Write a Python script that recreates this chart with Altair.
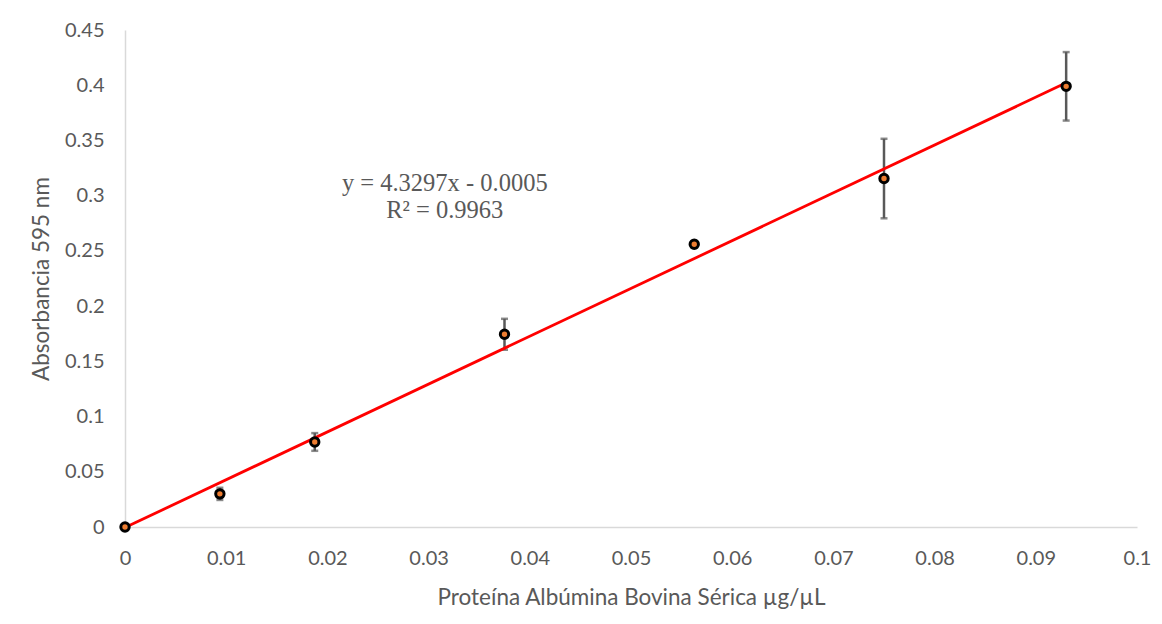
import altair as alt
import pandas as pd

conc = [0, 0.009375, 0.01875, 0.0375, 0.05625, 0.075, 0.093]
absorb = [0.0, 0.030, 0.077, 0.1745, 0.256, 0.3155, 0.399]
err = [0.0, 0.0055, 0.008, 0.014, 0.003, 0.036, 0.031]

slope = 4.3297
intercept = -0.0005
fit_x = [0, 0.093]

eq_lines = ["y = 4.3297x - 0.0005", "R² = 0.9963"]
eq_x = [0.0316, 0.0316]
eq_y = [0.3105, 0.2865]

df = pd.DataFrame({"x": conc, "y": absorb, "err": err})
df["lo"] = df["y"] - df["err"]
df["hi"] = df["y"] + df["err"]
fit = pd.DataFrame({"x": fit_x, "y": [slope * v + intercept for v in fit_x]})
ann = pd.DataFrame({"x": eq_x, "y": eq_y, "t": eq_lines})

FONT = "Lato"
GRAY = "#595959"

xscale = alt.Scale(domain=[0, 0.1], nice=False, zero=True)
yscale = alt.Scale(domain=[0, 0.45], nice=False)

xaxis = alt.Axis(
    title="Proteína Albúmina Bovina Sérica µg/µL",
    values=[0, 0.01, 0.02, 0.03, 0.04, 0.05, 0.06, 0.07, 0.08, 0.09, 0.1],
    format="~g", grid=False, ticks=False, domainColor="#D9D9D9", domainWidth=1.5,
    labelFlush=False, labelOverlap=False,
    labelPadding=21, titlePadding=18, labelFont=FONT, titleFont=FONT,
    labelFontSize=20, titleFontSize=22.5, labelColor=GRAY, titleColor=GRAY,
    titleFontWeight="normal",
)
yaxis = alt.Axis(
    title="Absorbancia 595 nm",
    values=[0, 0.05, 0.1, 0.15, 0.2, 0.25, 0.3, 0.35, 0.4, 0.45],
    format="~g", grid=False, ticks=False, domainColor="#D9D9D9", domainWidth=1.5,
    labelFlush=False, labelOverlap=False,
    labelPadding=21, titlePadding=11, labelFont=FONT, titleFont=FONT,
    labelFontSize=20, titleFontSize=22.5, labelColor=GRAY, titleColor=GRAY,
    titleFontWeight="normal",
)

base = alt.Chart(df)

bars = base.mark_rule(color=GRAY, strokeWidth=2.5).encode(
    x=alt.X("x:Q", scale=xscale, axis=xaxis),
    y=alt.Y("lo:Q", scale=yscale, axis=yaxis),
    y2="hi:Q",
)
caps_hi = base.mark_tick(color=GRAY, orient="horizontal", size=7, thickness=2.5).encode(
    x=alt.X("x:Q", scale=xscale), y=alt.Y("hi:Q", scale=yscale)
)
caps_lo = base.mark_tick(color=GRAY, orient="horizontal", size=7, thickness=2.5).encode(
    x=alt.X("x:Q", scale=xscale), y=alt.Y("lo:Q", scale=yscale)
)
line = alt.Chart(fit).mark_line(color="#FF0000", strokeWidth=2.8).encode(
    x=alt.X("x:Q", scale=xscale), y=alt.Y("y:Q", scale=yscale)
)
pts = base.mark_point(filled=True, fill="#ED7D31", stroke="#000000", strokeWidth=3,
                      size=70, opacity=1, shape="circle").encode(
    x=alt.X("x:Q", scale=xscale), y=alt.Y("y:Q", scale=yscale)
)
text = alt.Chart(ann).mark_text(font="Liberation Serif", fontSize=24.5, color=GRAY,
                                align="center", baseline="middle").encode(
    x=alt.X("x:Q", scale=xscale), y=alt.Y("y:Q", scale=yscale), text="t:N"
)

chart = alt.layer(bars, caps_hi, caps_lo, line, pts, text).properties(
    width=1012, height=497,
    background="white",
    autosize=alt.AutoSizeParams(type="none"),
    padding={"left": 117, "top": 22, "right": 17, "bottom": 89},
).configure_view(strokeWidth=0, stroke="transparent")

chart.save("out.html", embed_options={"renderer": "svg", "actions": False})
